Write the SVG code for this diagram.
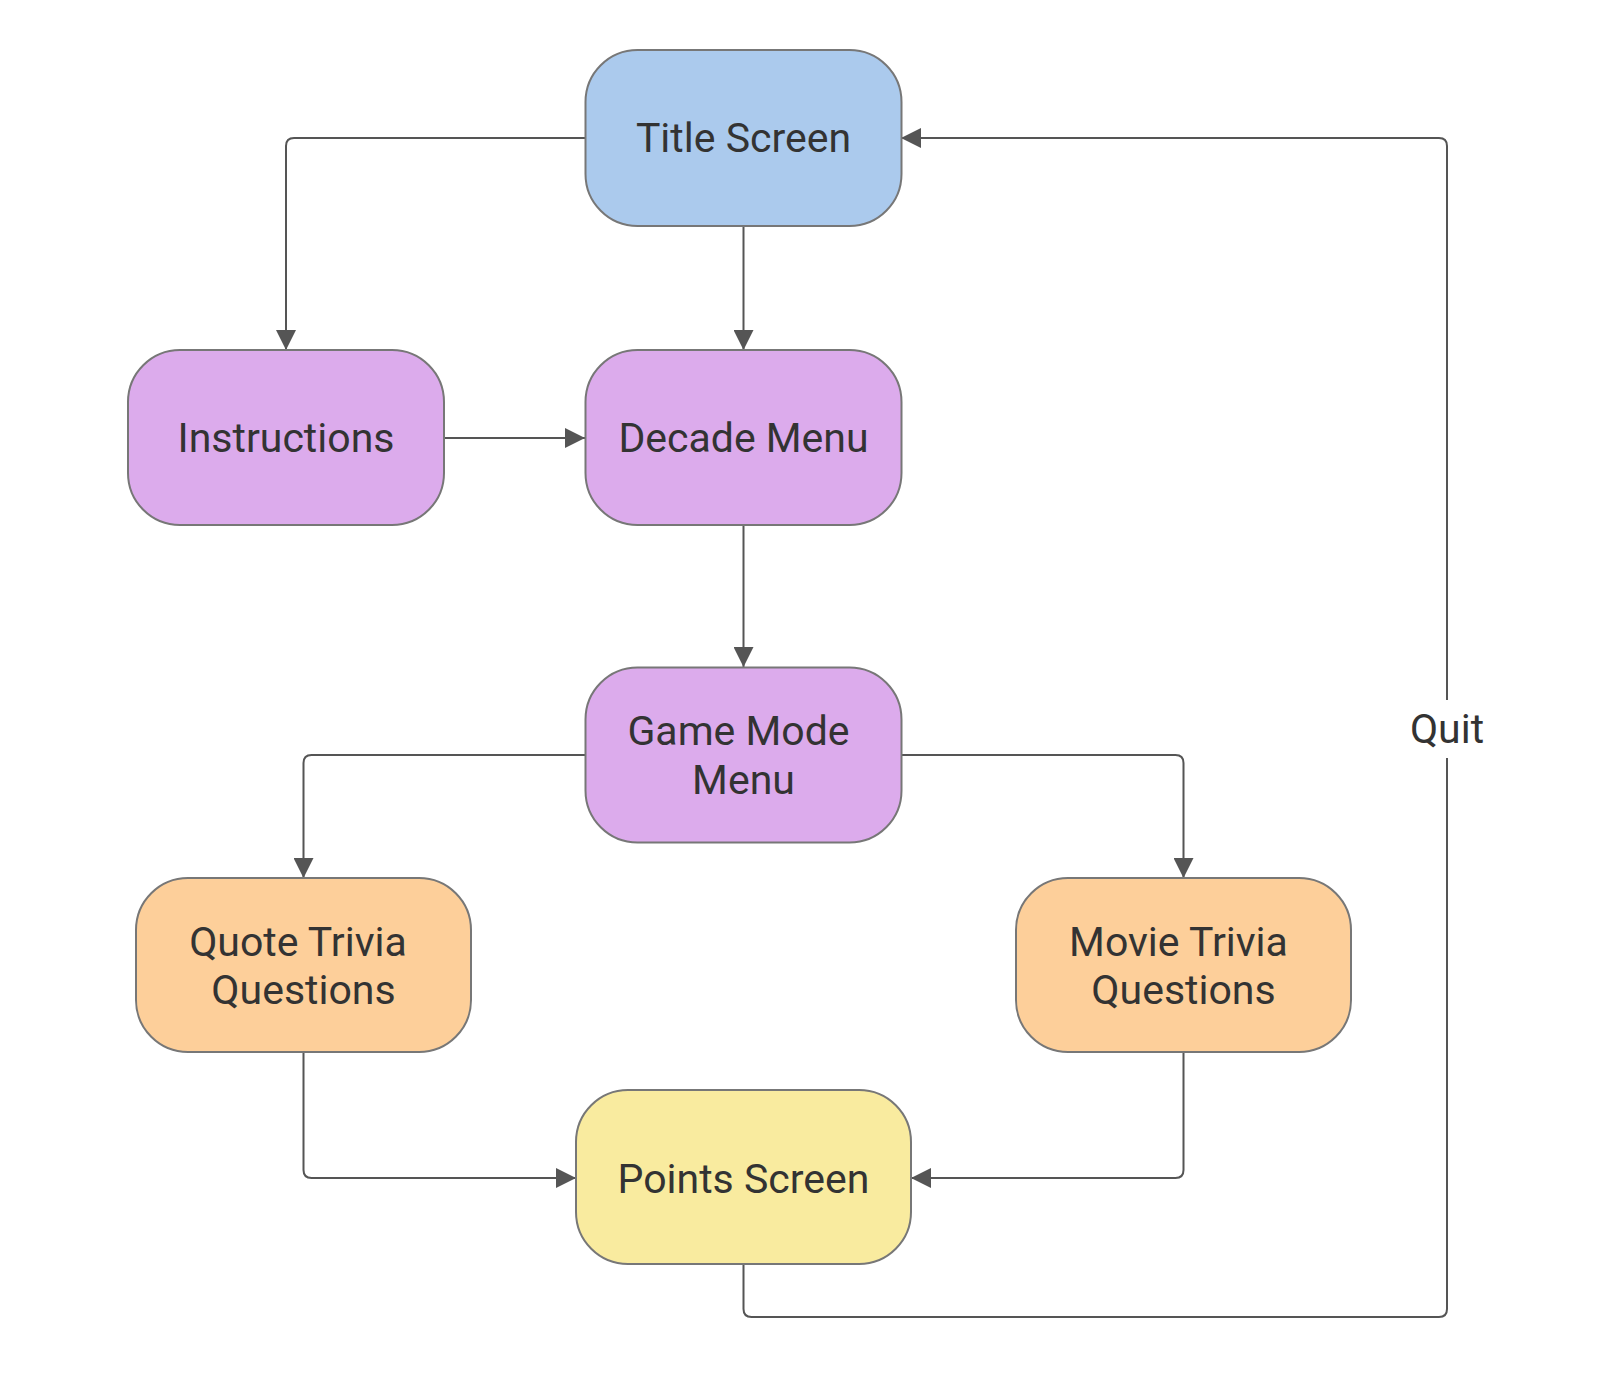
<svg xmlns="http://www.w3.org/2000/svg" width="1608" height="1388" viewBox="0 0 1608 1388">
<defs>
<marker id="arr" viewBox="0 0 20 20" refX="20" refY="10" markerWidth="20" markerHeight="20" markerUnits="userSpaceOnUse" orient="auto">
<path d="M0,0 L20,10 L0,20 Z" fill="#555"/>
</marker>
<style>
.node rect{stroke:#777;stroke-width:2}
.node text{font-family:Roboto,"Liberation Sans",sans-serif;font-size:41px;fill:#333;text-anchor:middle}
.blue rect{fill:#abcaed}
.purple rect{fill:#dcabec}
.orange rect{fill:#fdcf9a}
.yellow rect{fill:#f9eb9f}
.edge{fill:none;stroke:#555;stroke-width:2}
.lbl{font-family:Roboto,"Liberation Sans",sans-serif;font-size:41px;fill:#333;text-anchor:middle}
</style>
</defs>
<rect width="1608" height="1388" fill="#fff"/>
<g id="connectors">
<path class="edge" marker-end="url(#arr)" d="M585,138 H294 Q286,138 286,146 V350"/>
<path class="edge" marker-end="url(#arr)" d="M743.5,226 V350"/>
<path class="edge" marker-end="url(#arr)" d="M444,438 H585"/>
<path class="edge" marker-end="url(#arr)" d="M743.5,525 V667"/>
<path class="edge" marker-end="url(#arr)" d="M585,755 H311.5 Q303.5,755 303.5,763 V878"/>
<path class="edge" marker-end="url(#arr)" d="M901,755 H1175.5 Q1183.5,755 1183.5,763 V878"/>
<path class="edge" marker-end="url(#arr)" d="M303.5,1052 V1170 Q303.5,1178 311.5,1178 H576"/>
<path class="edge" marker-end="url(#arr)" d="M1183.5,1052 V1170 Q1183.5,1178 1175.5,1178 H911"/>
<path class="edge" marker-end="url(#arr)" d="M743.5,1264 V1309 Q743.5,1317 751.5,1317 H1439 Q1447,1317 1447,1309 V146 Q1447,138 1439,138 H901"/>
<rect x="1405" y="700" width="84" height="58" fill="#fff"/>
<text class="lbl" x="1447" y="743">Quit</text>
</g>
<g id="title-screen" class="node blue">
<rect x="585.5" y="50" width="316" height="176" rx="52" ry="52"/>
<text x="743.5" y="152">Title Screen</text>
</g>
<g id="instructions" class="node purple">
<rect x="128" y="350" width="316" height="175" rx="52" ry="52"/>
<text x="286" y="452">Instructions</text>
</g>
<g id="decade-menu" class="node purple">
<rect x="585.5" y="350" width="316" height="175" rx="52" ry="52"/>
<text x="743.5" y="452">Decade Menu</text>
</g>
<g id="game-mode-menu" class="node purple">
<rect x="585.5" y="667.5" width="316" height="175" rx="52" ry="52"/>
<text x="738.5" y="745">Game Mode</text>
<text x="743.5" y="794">Menu</text>
</g>
<g id="quote-trivia" class="node orange">
<rect x="136" y="878" width="335" height="174" rx="52" ry="52"/>
<text x="298" y="956">Quote Trivia</text>
<text x="303.5" y="1004">Questions</text>
</g>
<g id="movie-trivia" class="node orange">
<rect x="1016" y="878" width="335" height="174" rx="52" ry="52"/>
<text x="1178.5" y="956">Movie Trivia</text>
<text x="1183.5" y="1004">Questions</text>
</g>
<g id="points-screen" class="node yellow">
<rect x="576" y="1090" width="335" height="174" rx="52" ry="52"/>
<text x="743.5" y="1193">Points Screen</text>
</g>
</svg>
